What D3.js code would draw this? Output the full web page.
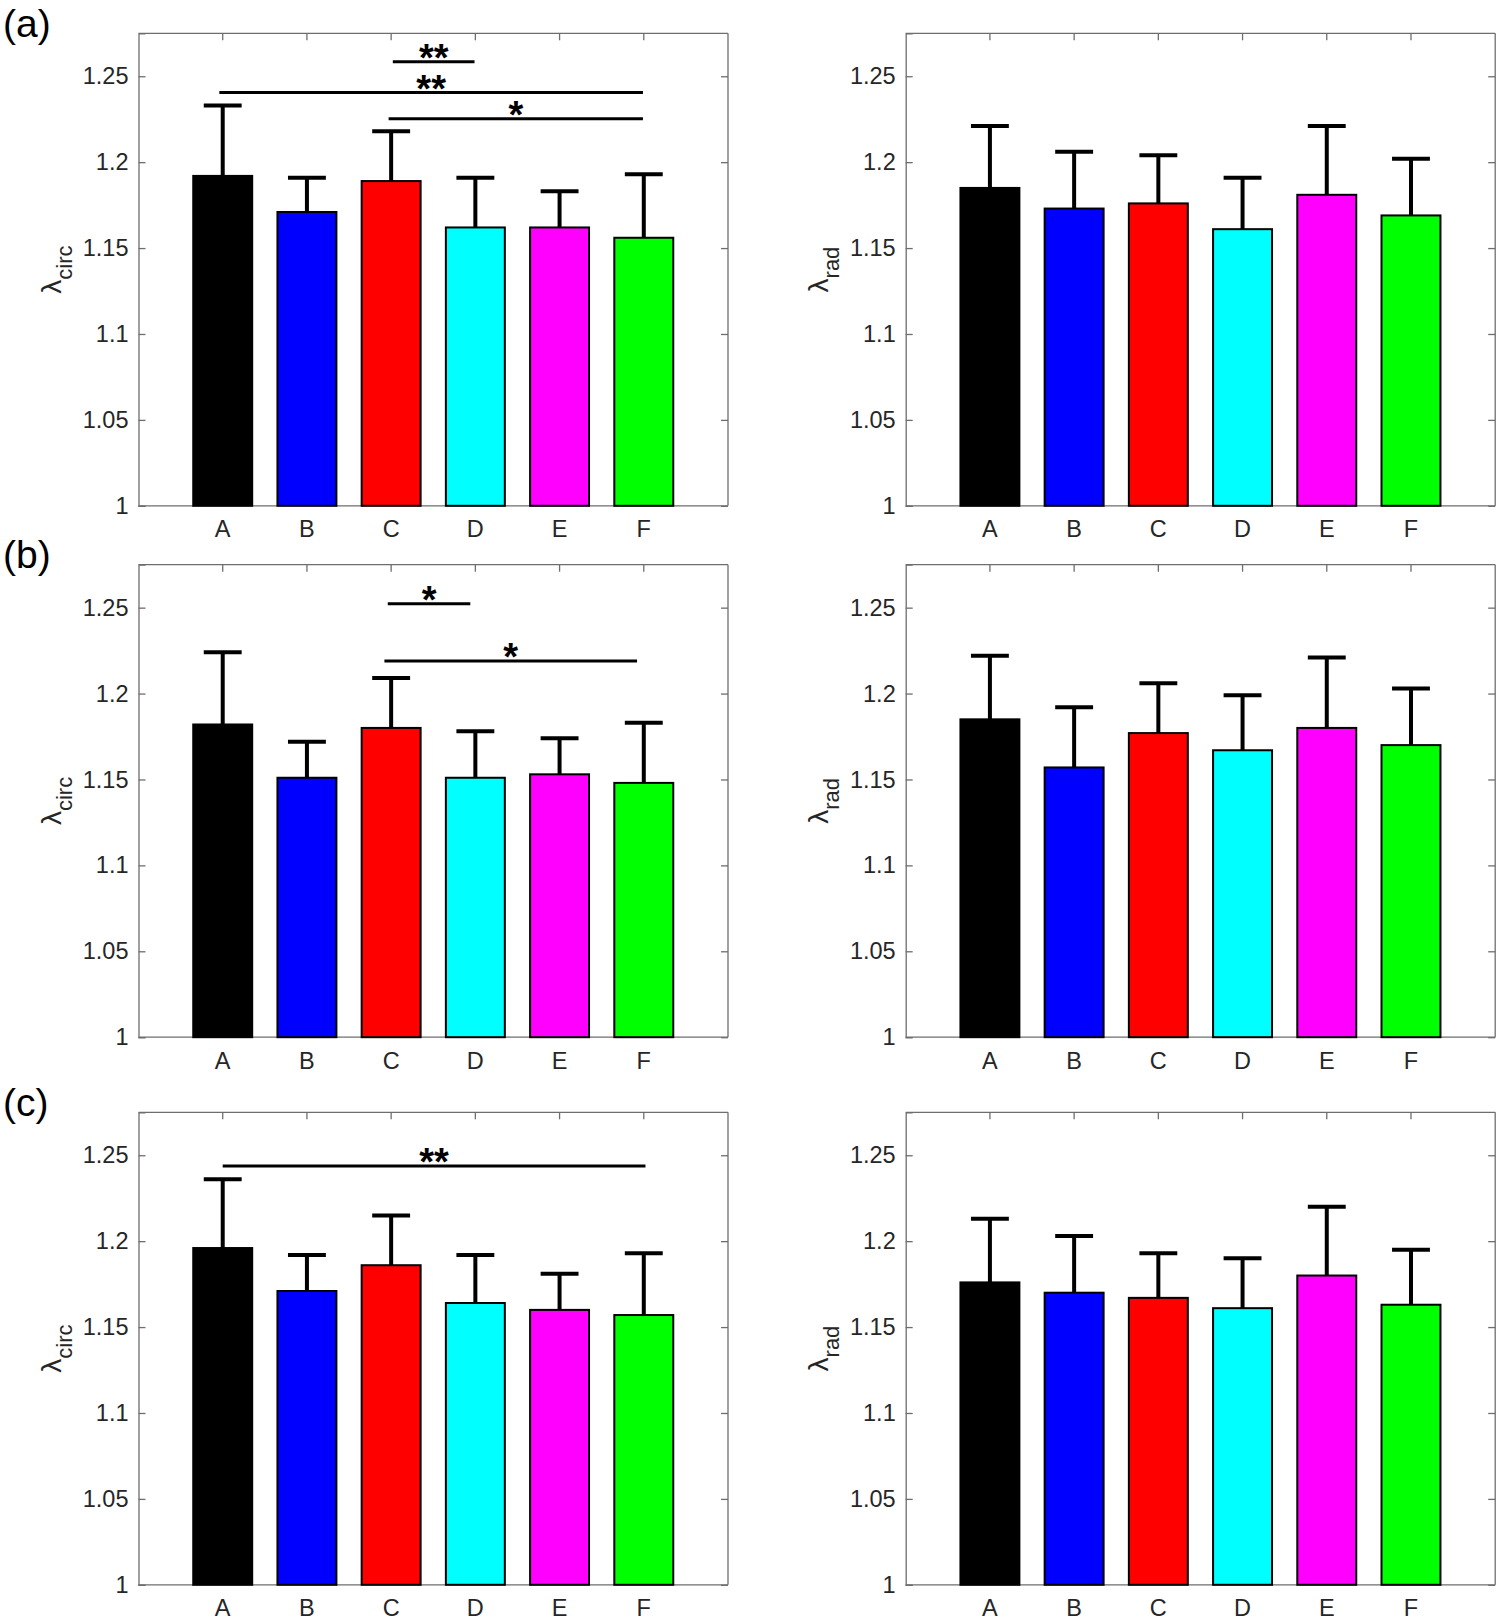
<!DOCTYPE html>
<html>
<head>
<meta charset="utf-8">
<script src="https://cdn.jsdelivr.net/npm/d3@7"></script>
<style>
  body { margin: 0; background: #fff; }
  svg text { font-family: "Liberation Sans", Arial, sans-serif; fill: #262626; }
</style>
</head>
<body>
<svg id="chart" width="1500" height="1621"></svg>
<script>
// group labels and y ticks
const categories = ["A", "B", "C", "D", "E", "F"];
const yTicks = [1, 1.05, 1.1, 1.15, 1.2, 1.25];
const yTickLabels = ["1", "1.05", "1.1", "1.15", "1.2", "1.25"];

// means and SDs
const aCircMean = [1.192, 1.171, 1.189, 1.162, 1.162, 1.156];
const aCircSd   = [0.041, 0.020, 0.029, 0.029, 0.021, 0.037];
const aRadMean  = [1.185, 1.173, 1.176, 1.161, 1.181, 1.169];
const aRadSd    = [0.036, 0.033, 0.028, 0.030, 0.040, 0.033];

const bCircMean = [1.182, 1.151, 1.180, 1.151, 1.153, 1.148];
const bCircSd   = [0.042, 0.021, 0.029, 0.027, 0.021, 0.035];
const bRadMean  = [1.185, 1.157, 1.177, 1.167, 1.180, 1.170];
const bRadSd    = [0.037, 0.035, 0.029, 0.032, 0.041, 0.033];

const cCircMean = [1.196, 1.171, 1.186, 1.164, 1.160, 1.157];
const cCircSd   = [0.040, 0.021, 0.029, 0.028, 0.021, 0.036];
const cRadMean  = [1.176, 1.170, 1.167, 1.161, 1.180, 1.163];
const cRadSd    = [0.037, 0.033, 0.026, 0.029, 0.040, 0.032];

// significance bars: from/to are group positions (1 = A), y in data units
const aSig = [
    {from: 3.02, to: 3.99, y: 1.2585, label: "**"},
    {from: 0.96, to: 5.99, y: 1.2405, label: "**"},
    {from: 2.97, to: 5.99, y: 1.2252, label: "*"}
];
const bSig = [
    {from: 2.96, to: 3.94, y: 1.2523, label: "*"},
    {from: 2.92, to: 5.92, y: 1.2190, label: "*"}
];
const cSig = [
    {from: 1.00, to: 6.02, y: 1.2438, label: "**"}
];

const barColors = ["#000000", "#0000ff", "#ff0000", "#00ffff", "#ff00ff", "#00ff00"];

const svg = d3.select("#chart");
const W = 589.5, H = 472.5;
const rowTops = [33.3, 564.7, 1112.3];
const colLefts = [138.5, 905.7];

const rows = [
    {tag: "(a)", left: [aCircMean, aCircSd, aSig], right: [aRadMean, aRadSd, []]},
    {tag: "(b)", left: [bCircMean, bCircSd, bSig], right: [bRadMean, bRadSd, []]},
    {tag: "(c)", left: [cCircMean, cCircSd, cSig], right: [cRadMean, cRadSd, []]}
];

const x = d3.scaleBand().domain(categories).range([0, W]).paddingInner(0.3).paddingOuter(0.65);
const y = d3.scaleLinear().domain([1, 1.275]).range([H, 0]);
// group position (1..6) -> pixel
const xPos = d3.scaleLinear().domain([0, 7]).range([0, W]);

function drawPanel(g, mean, sd, sig, sub) {
    const data = categories.map((c, i) => ({c: c, m: mean[i], s: sd[i], col: barColors[i]}));

    // axes (box with inward ticks), drawn under the bars
    const fmt = v => yTickLabels[yTicks.indexOf(v)];
    const axL = g.append("g").call(d3.axisLeft(y).tickValues(yTicks).tickFormat(fmt).tickSize(-7).tickPadding(10));
    const axR = g.append("g").attr("transform", `translate(${W},0)`)
        .call(d3.axisRight(y).tickValues(yTicks).tickFormat("").tickSize(-7));
    const axT = g.append("g").call(d3.axisTop(x).tickFormat("").tickSize(-7));
    const axB = g.append("g").attr("transform", `translate(0,${H})`)
        .call(d3.axisBottom(x).tickSize(0).tickPadding(15));
    [axL, axR, axT, axB].forEach(a => {
        a.select(".domain").attr("stroke", "#6e6e6e").attr("stroke-width", 1.3);
        a.selectAll(".tick line").attr("stroke", "#6e6e6e").attr("stroke-width", 1.3);
        a.selectAll("text").style("font-size", "23.5px").attr("fill", "#262626");
    });
    axR.select(".domain").attr("d", `M0,0V${H}`);
    axT.select(".domain").attr("d", `M0,0H${W}`);
    axB.select(".domain").attr("d", `M0,0H${W}`);

    // bars
    g.selectAll("rect.bar").data(data).enter().append("rect")
        .attr("class", "bar")
        .attr("x", d => x(d.c))
        .attr("width", x.bandwidth())
        .attr("y", d => y(d.m))
        .attr("height", d => y(1) - y(d.m))
        .attr("fill", d => d.col)
        .attr("stroke", "#000")
        .attr("stroke-width", 2);

    // error bars (upper only)
    const cap = x.step() * 0.45;
    const eb = g.selectAll("g.eb").data(data).enter().append("g").attr("class", "eb");
    eb.append("line")
        .attr("x1", d => x(d.c) + x.bandwidth() / 2)
        .attr("x2", d => x(d.c) + x.bandwidth() / 2)
        .attr("y1", d => y(d.m))
        .attr("y2", d => y(d.m + d.s))
        .attr("stroke", "#000").attr("stroke-width", 4);
    eb.append("line")
        .attr("x1", d => x(d.c) + x.bandwidth() / 2 - cap / 2)
        .attr("x2", d => x(d.c) + x.bandwidth() / 2 + cap / 2)
        .attr("y1", d => y(d.m + d.s))
        .attr("y2", d => y(d.m + d.s))
        .attr("stroke", "#000").attr("stroke-width", 4);

    // significance bars
    sig.forEach(s => {
        g.append("line")
            .attr("x1", xPos(s.from)).attr("x2", xPos(s.to))
            .attr("y1", y(s.y)).attr("y2", y(s.y))
            .attr("stroke", "#000").attr("stroke-width", 3);
        const fs = 38;
        g.append("text")
            .attr("x", (xPos(s.from) + xPos(s.to)) / 2)
            .attr("y", y(s.y) - 12.5 + 0.575 * fs)
            .attr("text-anchor", "middle")
            .style("font-size", fs + "px")
            .style("font-weight", "bold")
            .style("fill", "#000")
            .text(s.label);
    });

    // y label: lambda with subscript
    const lab = g.append("text")
        .attr("transform", `translate(-78,${H / 2}) rotate(-90)`)
        .attr("text-anchor", "middle");
    lab.append("tspan").style("font-size", "28px").text("\u03bb");
    lab.append("tspan").style("font-size", "22px").attr("dy", 11).text(sub);
}

rows.forEach((r, ri) => {
    svg.append("text")
        .attr("x", 3).attr("y", rowTops[ri] + 3.2)
        .style("font-size", "39px")
        .style("fill", "#000")
        .text(r.tag);
    const gl = svg.append("g").attr("transform", `translate(${colLefts[0]},${rowTops[ri]})`);
    drawPanel(gl, r.left[0], r.left[1], r.left[2], "circ");
    const gr = svg.append("g").attr("transform", `translate(${colLefts[1]},${rowTops[ri]})`);
    drawPanel(gr, r.right[0], r.right[1], r.right[2], "rad");
});
</script>
</body>
</html>
